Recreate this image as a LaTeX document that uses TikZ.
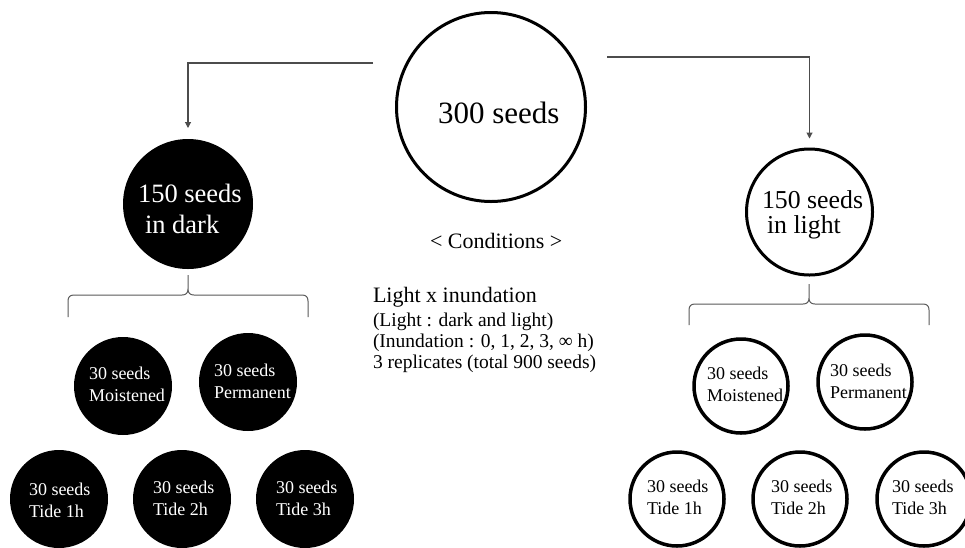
\documentclass[tikz,border=0pt]{standalone}
\usepackage{fontspec}
\setmainfont{Liberation Serif}
\usetikzlibrary{arrows.meta,calc}
\begin{document}
\begin{tikzpicture}[x=1pt,y=-1pt,
  darkc/.style={circle,fill=black,inner sep=0pt,outer sep=0pt,minimum size=98pt},
  lightc/.style={circle,draw=black,line width=3.5pt,inner sep=0pt,outer sep=0pt,minimum size=94pt},
  txt/.style={anchor=base west,inner sep=0pt,outer sep=0pt,align=left},
  smalltxt/.style={txt,font=\fontsize{18}{21.5}\selectfont},
  wtxt/.style={smalltxt,text=white},
  btxt/.style={smalltxt,text=black},
  arr/.style={draw=black!70,line width=1.1pt,-{Triangle[length=6pt,width=6pt]}},
  brc/.style={draw=black!65,line width=1pt}]
\useasboundingbox (0,0) rectangle (965,547);
\fill[white] (0,0) rectangle (965,547);

% top circle
\node[circle,draw=black,line width=3pt,minimum size=189pt,inner sep=0pt,outer sep=0pt] (big) at (491,107) {};
\node[txt,font=\fontsize{31}{36}\selectfont] (t300) at (438,123) {300 seeds};

% second level
\node[circle,fill=black,inner sep=0pt,outer sep=0pt,minimum size=130pt] (d150) at (188,204) {};
\node[txt,text=white,font=\fontsize{26.5}{31}\selectfont] (td150) at (138,233) {150 seeds\\\hspace{7pt}in dark};
\node[circle,draw=black,line width=3pt,minimum size=126pt,inner sep=0pt,outer sep=0pt] (l150) at (809.5,212) {};
\node[txt,font=\fontsize{25.8}{25}\selectfont] (tl150) at (762,233) {150 seeds\\\hspace{5pt}in light};

% arrows
\coordinate (s1) at (373,63);
\coordinate (s2) at (607,57);
\draw[arr,shorten >=11pt] (s1) -| (d150.north);
\draw[arr,shorten >=10.5pt] (s2) -| (l150.north);

% conditions
\node[txt,font=\fontsize{22}{26}\selectfont] (cond0) at (430,248) {< Conditions >};
\node[txt,font=\fontsize{22}{26}\selectfont] (cond1) at (373,302) {Light x inundation};
\node[txt,font=\fontsize{19.5}{23}\selectfont] (cond2) at (373,326) {(Light : dark and light)};
\node[txt,font=\fontsize{19.5}{23}\selectfont] (cond3) at (373,347) {(Inundation : 0, 1, 2, 3, ∞ h)};
\node[txt,font=\fontsize{19.5}{23}\selectfont] (cond4) at (373,368) {3 replicates (total 900 seeds)};

% braces
\coordinate (b1) at ($(d150.south)+(0,6)$);
\draw[brc] (68,317) -- (68,301) .. controls (68,297) and (70,295) .. (74,295) -- (182,295)
  .. controls (186,295) and (188,293) .. (188,289) -- (b1) -- (188,289)
  .. controls (188,293) and (190,295) .. (194,295) -- (302,295)
  .. controls (306,295) and (308,297) .. (308,301) -- (308,317);
\coordinate (b2) at (809,284);
\draw[brc] (689,325) -- (689,310) .. controls (689,306) and (691,304) .. (695,304) -- (803,304)
  .. controls (807,304) and (809,302) .. (809,298) -- (b2) -- (809,298)
  .. controls (809,302) and (811,304) .. (815,304) -- (923,304)
  .. controls (927,304) and (929,306) .. (929,310) -- (929,325);

% dark small circles
\node[darkc] (dm) at (123,386) {};
\node[darkc] (dp) at (248,382) {};
\node[darkc] (dt1) at (59,499) {};
\node[darkc] (dt2) at (182,499) {};
\node[darkc] (dt3) at (305,499) {};
\node[wtxt] (tdm) at (89,401) {30 seeds\\Moistened};
\node[wtxt] (tdp) at (214,398) {30 seeds\\Permanent};
\node[wtxt] (tdt1) at (29,517) {30 seeds\\Tide 1h};
\node[wtxt] (tdt2) at (153,515) {30 seeds\\Tide 2h};
\node[wtxt] (tdt3) at (276,515) {30 seeds\\Tide 3h};

% light small circles
\node[lightc] (lm) at (741,386) {};
\node[lightc] (lp) at (865,382) {};
\node[lightc] (lt1) at (677,499) {};
\node[lightc] (lt2) at (800,499) {};
\node[lightc] (lt3) at (924,499) {};
\node[btxt] (tlm) at (707,401) {30 seeds\\Moistened};
\node[btxt] (tlp) at (830,398) {30 seeds\\Permanent};
\node[btxt] (tlt1) at (647,514) {30 seeds\\Tide 1h};
\node[btxt] (tlt2) at (771,514) {30 seeds\\Tide 2h};
\node[btxt] (tlt3) at (892,514) {30 seeds\\Tide 3h};
\end{tikzpicture}
\end{document}
